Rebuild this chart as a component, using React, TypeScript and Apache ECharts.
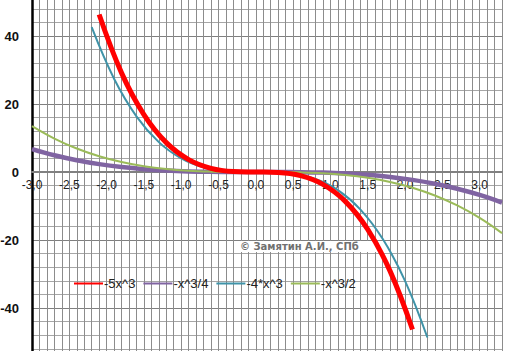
import React, { useEffect, useRef } from "react";
import * as echarts from "echarts";

// x positions and values
const redX = [-2.1, -1.8, -1.5, -1.2, -0.9, -0.6, -0.3, 0, 0.3, 0.6, 0.9, 1.2, 1.5, 1.8, 2.1];
const redY = [46.31, 29.16, 16.88, 8.64, 3.65, 1.08, 0.14, 0, -0.14, -1.08, -3.65, -8.64, -16.88, -29.16, -46.31];

const tealX = [-2.2, -1.9, -1.6, -1.3, -1.0, -0.7, -0.4, -0.1, 0.2, 0.5, 0.8, 1.1, 1.4, 1.7, 2.0, 2.3];
const tealY = [42.59, 27.44, 16.38, 8.79, 4, 1.37, 0.26, 0, -0.03, -0.5, -2.05, -5.32, -10.98, -19.65, -32, -48.67];

const wideX = [-3.0, -2.7, -2.4, -2.1, -1.8, -1.5, -1.2, -0.9, -0.6, -0.3, 0, 0.3, 0.6, 0.9, 1.2, 1.5, 1.8, 2.1, 2.4, 2.7, 3.0, 3.3];
const purpleY = [6.75, 4.92, 3.46, 2.32, 1.46, 0.84, 0.43, 0.18, 0.05, 0.01, 0, -0.01, -0.05, -0.18, -0.43, -0.84, -1.46, -2.32, -3.46, -4.92, -6.75, -8.98];
const greenY = [13.5, 9.84, 6.91, 4.63, 2.92, 1.69, 0.86, 0.36, 0.11, 0.01, 0, -0.01, -0.11, -0.36, -0.86, -1.69, -2.92, -4.63, -6.91, -9.84, -13.5, -17.97];

const seriesNames = ["-5x^3", "-x^3/4", "-4*x^3", "-x^3/2"];
const watermark = "© Замятин А.И., СПб";

const pairs = (xs: number[], ys: number[]) => xs.map((x, i) => [x, ys[i]]);

export default function App() {
  const ref = useRef<HTMLDivElement>(null);
  useEffect(() => {
    if (!ref.current) return;
    const chart = echarts.init(ref.current, undefined, { renderer: "svg" });
    const minor = "#a6a6a6";
    const major = "#7f7f7f";
    const font = "Liberation Sans, Arial, sans-serif";
    const yMin = -56;
    const yMax = 52;
    const gridTop = -4.8;
    const gridH = 367.2;
    // distance from the plot's bottom edge up to the zero line
    const zeroOffset = -(gridH * (0 - yMin)) / (yMax - yMin);
    const line = (name: string, data: number[][], color: string, width: number, z: number) => ({
      name,
      type: "line",
      data,
      smooth: 0.4,
      symbol: "none",
      lineStyle: { color, width },
      itemStyle: { color },
      z,
    });
    chart.setOption({
      animation: false,
      backgroundColor: "#ffffff",
      grid: {
        left: 32,
        right: 23,
        top: gridTop,
        height: gridH,
        containLabel: false,
        outerBoundsMode: "none",
      },
      xAxis: {
        type: "value",
        min: -3,
        max: 3.3,
        interval: 0.1,
        position: "bottom",
        offset: zeroOffset,
        axisLine: { onZero: false, lineStyle: { color: "#808080", width: 2 } },
        axisTick: { show: false },
        axisLabel: {
          margin: 7,
          fontSize: 12,
          color: "#222",
          fontFamily: font,
          formatter: (v: number) => {
            const t = Math.round(v * 10);
            if (t % 5 !== 0) return "";
            return (t / 10).toFixed(1).replace(".", ",");
          },
        },
        splitLine: { show: true, lineStyle: { color: "#8c8c8c", width: 1 } },
      },
      yAxis: {
        type: "value",
        min: yMin,
        max: yMax,
        interval: 4,
        axisLine: { onZero: false, lineStyle: { color: "#000", width: 2.5 } },
        axisTick: { show: false },
        axisLabel: {
          margin: 13,
          fontSize: 13,
          fontWeight: "bold",
          color: "#111",
          fontFamily: font,
          formatter: (v: number) => (Math.round(v) % 20 === 0 ? String(Math.round(v)) : ""),
        },
        splitLine: { show: true, lineStyle: { color: [minor, minor, minor, minor, major], width: 1 } },
      },
      legend: {
        left: 68,
        top: 272,
        itemWidth: 29,
        itemHeight: 14,
        itemGap: 7,
        data: seriesNames,
        itemStyle: { opacity: 0 },
        textStyle: {
          fontSize: 13,
          color: "#222",
          fontFamily: font,
          padding: [0, 0, 0, -4],
        },
      },
      graphic: [
        {
          type: "rect",
          z: 1,
          shape: { x: 237, y: 241, width: 146, height: 11 },
          style: { fill: "#ffffff" },
        },
        {
          type: "text",
          z: 1,
          x: 240,
          y: 241.5,
          style: {
            text: watermark,
            font: "bold 10px 'DejaVu Sans', sans-serif",
            fill: "#707070",
          },
        },
      ],
      series: [
        line(seriesNames[0], pairs(redX, redY), "#ff0000", 5, 3),
        line(seriesNames[1], pairs(wideX, purpleY), "#8064a2", 4.5, 2),
        line(seriesNames[2], pairs(tealX, tealY), "#3f93a8", 2, 2),
        line(seriesNames[3], pairs(wideX, greenY), "#9bbb59", 2, 2),
      ],
    });
    return () => chart.dispose();
  }, []);
  return (
    <div
      ref={ref}
      style={{ position: "fixed", left: 0, top: 0, width: 525, height: 351 }}
    />
  );
}
